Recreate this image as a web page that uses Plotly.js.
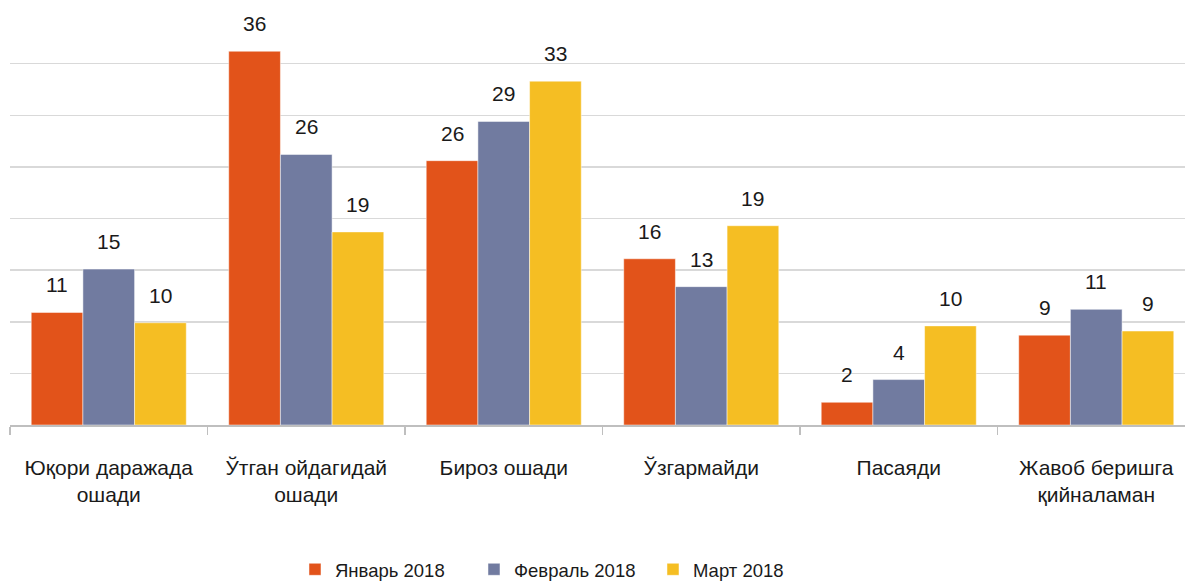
<!DOCTYPE html>
<html>
<head>
<meta charset="utf-8">
<script src="https://cdn.plot.ly/plotly-3.0.1.min.js"></script>
<style>
html,body{margin:0;padding:0;overflow:hidden;background:#fff;}
#chart{width:1195px;height:582px;}
</style>
</head>
<body>
<div id="chart"></div>
<script>
var categories = ["Юқори даражада<br>ошади", "Ўтган ойдагидай<br>ошади", "Бироз ошади", "Ўзгармайди", "Пасаяди", "Жавоб беришга<br>қийналаман"];
var seriesNames = ["Январь 2018", "Февраль 2018", "Март 2018"];
var january = [10.9, 36.2, 25.6, 16.1, 2.2, 8.7];
var february = [15.1, 26.2, 29.4, 13.4, 4.4, 11.2];
var march = [9.9, 18.7, 33.3, 19.3, 9.6, 9.1];
var colors = ["#E2531A", "#717BA0", "#F5BE23"];

var FONT = "'Liberation Sans', Arial, sans-serif";
var W = 1195, H = 582;
var margin = {l: 10, r: 0, t: 12, b: 157};
var bargap = 0.215;
var allSeries = [january, february, march];

var traces = allSeries.map(function (vals, i) {
  return {
    type: "bar",
    name: seriesNames[i],
    x: categories,
    y: vals,
    marker: {color: colors[i], line: {color: "rgba(255,255,255,0.6)", width: 0.8}},
    hoverinfo: "skip"
  };
});

var plotW = W - margin.l - margin.r;
var catW = plotW / categories.length;
var barW = catW * (1 - bargap) / allSeries.length;

var annotations = [];
allSeries.forEach(function (vals, s) {
  vals.forEach(function (v, c) {
    annotations.push({
      x: categories[c], y: v, xref: "x", yref: "y",
      text: String(Math.round(v)),
      showarrow: false,
      xanchor: "center", yanchor: "bottom",
      xshift: (s - 1) * barW,
      yshift: 14,
      font: {family: FONT, size: 21, color: "#1a1a1a"}
    });
  });
});

var layout = {
  width: W, height: H,
  margin: margin,
  barmode: "group",
  bargap: bargap,
  bargroupgap: 0,
  paper_bgcolor: "#fff",
  plot_bgcolor: "#fff",
  font: {family: FONT, size: 21, color: "#1a1a1a"},
  xaxis: {
    type: "category",
    automargin: false,
    showline: true, linecolor: "#BFBFBF", linewidth: 1.5,
    ticks: "outside", tickson: "boundaries", ticklen: 8, tickcolor: "#BFBFBF", tickwidth: 1.5,
    tickangle: 0,
    ticklabelstandoff: 23,
    tickfont: {family: FONT, size: 21, color: "#1a1a1a"},
    showgrid: false,
    fixedrange: true
  },
  yaxis: {
    range: [0, 40],
    dtick: 5,
    showticklabels: false,
    showgrid: true, gridcolor: "#D9D9D9", gridwidth: 1.5,
    zeroline: false,
    showline: false,
    ticks: "",
    fixedrange: true
  },
  showlegend: true,
  legend: {
    orientation: "h",
    x: 0.2405, xanchor: "left",
    yref: "container",
    y: 0.021, yanchor: "middle",
    font: {family: FONT, size: 18.5, color: "#1a1a1a"},
    itemwidth: 30,
    entrywidth: 134,
    traceorder: "normal"
  },
  annotations: annotations
};

Plotly.newPlot("chart", traces, layout, {displayModeBar: false, staticPlot: true});
</script>
</body>
</html>
